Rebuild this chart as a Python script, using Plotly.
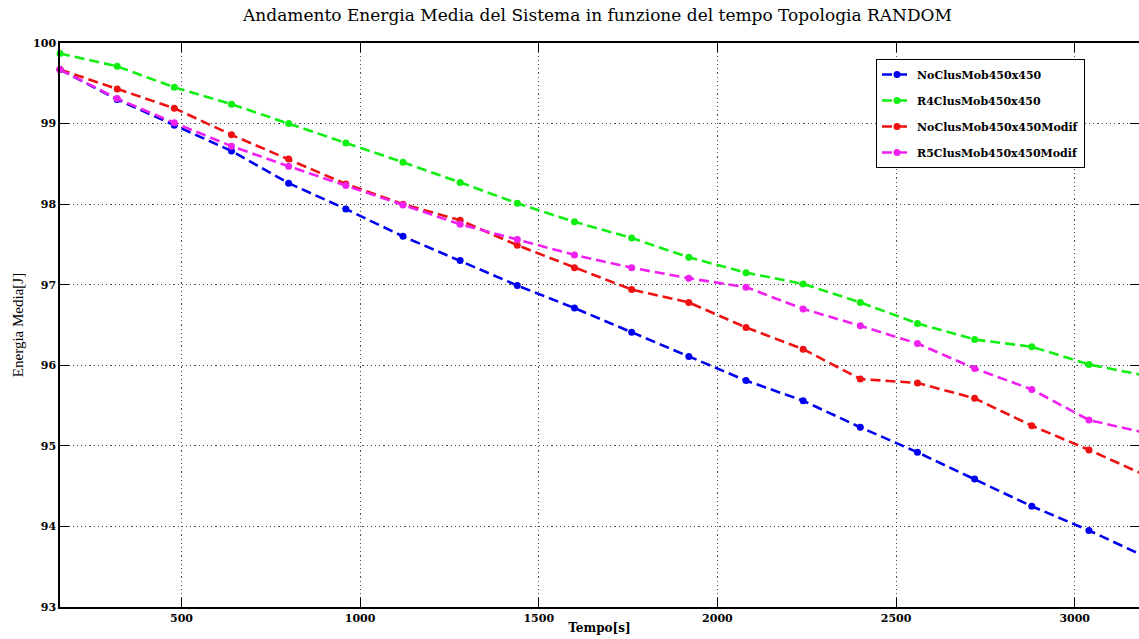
import plotly.graph_objects as go

tempo = [160, 320, 480, 640, 800, 960, 1120, 1280, 1440, 1600,
         1760, 1920, 2080, 2240, 2400, 2560, 2720, 2880, 3040, 3200]

no_clus = [99.67, 99.30, 98.98, 98.66, 98.26, 97.94, 97.60, 97.30, 96.99, 96.71,
           96.41, 96.11, 95.81, 95.56, 95.23, 94.92, 94.59, 94.25, 93.95, 93.62]
r4_clus = [99.87, 99.71, 99.45, 99.24, 99.00, 98.76, 98.52, 98.27, 98.01, 97.78,
           97.58, 97.34, 97.15, 97.01, 96.78, 96.52, 96.32, 96.23, 96.01, 95.87]
no_clus_modif = [99.67, 99.43, 99.19, 98.86, 98.56, 98.25, 98.00, 97.80, 97.49, 97.21,
                 96.94, 96.78, 96.47, 96.20, 95.83, 95.78, 95.59, 95.25, 94.95, 94.63]
r5_clus_modif = [99.67, 99.31, 99.01, 98.72, 98.47, 98.23, 97.99, 97.75, 97.56, 97.37,
                 97.21, 97.08, 96.97, 96.70, 96.49, 96.27, 95.96, 95.70, 95.32, 95.16]

series_names = ["NoClusMob450x450", "R4ClusMob450x450",
                "NoClusMob450x450Modif", "R5ClusMob450x450Modif"]
series_values = [no_clus, r4_clus, no_clus_modif, r5_clus_modif]
series_colors = ["#0000f0", "#11ee11", "#ee1111", "#f020f0"]

x_ticks = [500, 1000, 1500, 2000, 2500, 3000]
y_ticks = [93, 94, 95, 96, 97, 98, 99, 100]

fig = go.Figure()
for i, (name, vals, col) in enumerate(zip(series_names, series_values, series_colors)):
    fig.add_trace(go.Scatter(
        x=tempo, y=vals, name=name, mode="lines+markers",
        line=dict(color=col, width=2.6, dash="10px,5px"),
        marker=dict(color=col, size=7, symbol="circle"),
        cliponaxis=False, legendgroup=f"g{i}",
    ))

W, H = 1139, 639
L, T, B = 60, 43, 32
PW, PH = W - L, H - T - B
tick_font = dict(family="DejaVu Serif", size=11, color="black", weight="bold")
grid_style = dict(showgrid=True, gridcolor="rgba(0,0,0,0.7)", griddash="1.2px,3px", gridwidth=1)
fig.update_layout(
    width=W, height=H,
    margin=dict(l=L, r=0, t=T, b=B, autoexpand=False),
    paper_bgcolor="white", plot_bgcolor="white",
    title=dict(text="Andamento Energia Media del Sistema in funzione del tempo Topologia RANDOM",
               x=597.5 / W, xanchor="center", y=1 - 15 / H, yanchor="middle", yref="container",
               font=dict(family="DejaVu Serif", size=17, color="black")),
    showlegend=True,
    legend=dict(x=(876 - L) / PW, xanchor="left", y=1 - (59 - T) / PH, yanchor="top",
                xref="paper", yref="paper",
                bgcolor="white", bordercolor="black", borderwidth=1,
                font=dict(family="DejaVu Serif", size=11, color="black", weight="bold"),
                tracegroupgap=7, itemwidth=30),
    xaxis=dict(range=[160, 3180], tickvals=x_ticks, ticktext=[str(v) for v in x_ticks],
               **grid_style,
               showline=True, linecolor="black", linewidth=1.5, mirror="ticks",
               ticks="inside", ticklen=9, tickcolor="black", tickwidth=1.2,
               tickfont=tick_font, zeroline=False, automargin=False,
               title=dict(text="Tempo[s]", standoff=0,
                          font=dict(family="DejaVu Serif", size=12, color="black", weight="bold"))),
    yaxis=dict(range=[93, 100], tickvals=y_ticks, ticktext=[str(v) for v in y_ticks],
               **grid_style,
               showline=True, linecolor="black", linewidth=1.5, mirror="ticks",
               ticks="inside", ticklen=9, tickcolor="black", tickwidth=1.2,
               tickfont=tick_font, zeroline=False, automargin=False,
               title=dict(text="Energia Media[J]", standoff=6,
                          font=dict(family="Liberation Serif", size=15, color="black"))),
)

fig.write_html(
    "out.html",
    config={"displayModeBar": False},
    post_script="document.body.style.margin='0';document.body.style.overflow='hidden';",
)
